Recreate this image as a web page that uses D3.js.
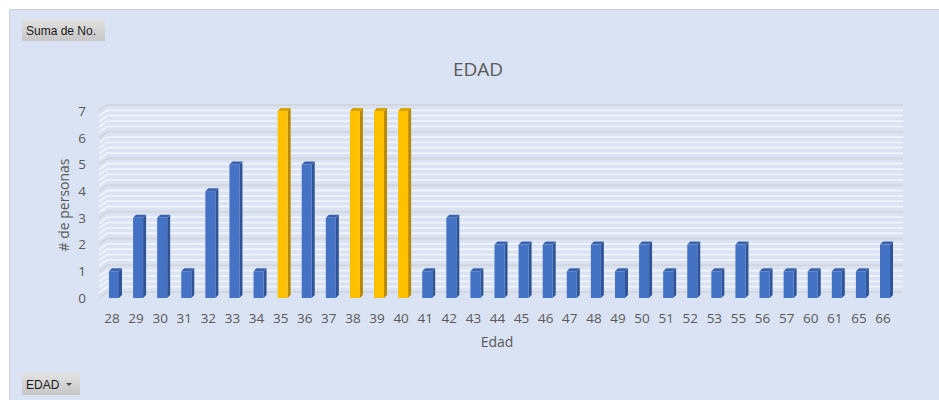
<!DOCTYPE html>
<html>
<head>
<meta charset="utf-8">
<script src="https://cdn.jsdelivr.net/npm/d3@7"></script>
<style>
  html, body { margin: 0; padding: 0; background: #ffffff; }
  svg { display: block; font-family: "Open Sans", "Liberation Sans", sans-serif; }
</style>
</head>
<body>
<svg id="chart" width="939" height="400"></svg>
<script>
// Ages (categories) and number of people per age
const edades = ["28","29","30","31","32","33","34","35","36","37","38","39","40","41","42","43","44","45","46","47","48","49","50","51","52","53","55","56","57","60","61","65","66"];
const personas = [1,3,3,1,4,5,1,7,5,3,7,7,7,1,3,1,2,2,2,1,2,1,2,1,2,1,2,1,1,1,1,1,2];
// Ages that are highlighted in gold
const destacadas = ["35","38","39","40"];
const yTicks = [0,1,2,3,4,5,6,7];

const svg = d3.select("#chart");

// Chart area background
svg.append("rect")
  .attr("x", 9.5).attr("y", 9.5).attr("width", 940).attr("height", 400)
  .attr("fill", "#dae3f3").attr("stroke", "#d0d0d0").attr("stroke-width", 1);

const x = d3.scaleBand().domain(edades).range([100, 895]).paddingInner(0.585).paddingOuter(0.29);
const y = d3.scaleLinear().domain([0, 7]).range([298, 111]);

// 3D depth offsets for the back wall and bar faces
const wallDx = 8, wallDy = -6;
const barDx = 3, barDy = -3;
const wallLeft = 99, wallRight = 903;

// Back wall gridlines (major every 1, minor every 0.2)
const grid = svg.append("g");
const gridVals = d3.range(0, 7.0001, 0.2);
gridVals.forEach(v => {
  const major = Math.abs(v - Math.round(v)) < 1e-6;
  const yy = y(v);
  const col = major ? "#d3d6dc" : "#f1f4f9";
  grid.append("path")
    .attr("d", `M${wallLeft},${yy} L${wallLeft + wallDx},${yy + wallDy} L${wallRight},${yy + wallDy}`)
    .attr("fill", "none")
    .attr("stroke", col)
    .attr("stroke-width", major ? 2 : 1.8);
});

// Bars with front, side and top faces
const barOff = 2;
const bars = svg.append("g").selectAll("g").data(edades).join("g");
bars.each(function(c, i) {
  const g = d3.select(this);
  const v = personas[i];
  const gold = destacadas.includes(c);
  const front = gold ? "#ffc000" : "#4472c4";
  const side = gold ? "#b98a00" : "#2f5597";
  const top = gold ? "#d9a300" : "#3a63ad";
  const x0 = x(c) + barOff, x1 = x0 + x.bandwidth();
  const y0 = y(0), y1 = y(v);
  g.append("path")
    .attr("d", `M${x1},${y0} L${x1 + barDx},${y0 + barDy} L${x1 + barDx},${y1 + barDy} L${x1},${y1} Z`)
    .attr("fill", side);
  g.append("path")
    .attr("d", `M${x0},${y1} L${x0 + barDx},${y1 + barDy} L${x1 + barDx},${y1 + barDy} L${x1},${y1} Z`)
    .attr("fill", top);
  g.append("rect")
    .attr("x", x0).attr("y", y1).attr("width", x1 - x0).attr("height", y0 - y1)
    .attr("fill", front);
});

// Axes
const yAxis = svg.append("g")
  .attr("transform", "translate(92,0)")
  .call(d3.axisLeft(y).tickValues(yTicks).tickSize(0).tickPadding(6).tickFormat(d3.format("d")));
yAxis.select(".domain").remove();
yAxis.selectAll("text").attr("font-size", 13.5).attr("fill", "#595959")
  .style("font-family", "'Open Sans', sans-serif");

const xAxis = svg.append("g")
  .attr("transform", "translate(0,298)")
  .call(d3.axisBottom(x).tickSize(0).tickPadding(15));
xAxis.select(".domain").remove();
xAxis.selectAll("text").attr("font-size", 13.5).attr("fill", "#595959")
  .style("font-family", "'Open Sans', sans-serif");

// Titles
svg.append("text")
  .attr("x", 478).attr("y", 76)
  .attr("text-anchor", "middle")
  .attr("font-size", 19).attr("fill", "#595959")
  .text("EDAD");

svg.append("text")
  .attr("x", 497).attr("y", 347)
  .attr("text-anchor", "middle")
  .attr("font-size", 14).attr("fill", "#595959")
  .text("Edad");

svg.append("text")
  .attr("transform", "translate(69,205) rotate(-90)")
  .attr("text-anchor", "middle")
  .attr("font-size", 14).attr("fill", "#595959")
  .text("# de personas");

// Field buttons
const defs = svg.append("defs");
const grad = defs.append("linearGradient").attr("id", "btn").attr("x1", 0).attr("x2", 0).attr("y1", 0).attr("y2", 1);
grad.append("stop").attr("offset", "0%").attr("stop-color", "#e2e2e2");
grad.append("stop").attr("offset", "100%").attr("stop-color", "#c6c6c6");

svg.append("rect").attr("x", 22).attr("y", 19).attr("width", 83).attr("height", 22).attr("fill", "url(#btn)");
svg.append("text").attr("x", 26).attr("y", 35).attr("font-size", 12).attr("fill", "#1a1a1a")
  .style("font-family", "'Liberation Sans', 'DejaVu Sans', sans-serif")
  .text("Suma de No.");

svg.append("rect").attr("x", 22).attr("y", 373).attr("width", 58).attr("height", 22).attr("fill", "url(#btn)");
svg.append("text").attr("x", 26).attr("y", 389).attr("font-size", 12).attr("fill", "#1a1a1a")
  .style("font-family", "'Liberation Sans', 'DejaVu Sans', sans-serif")
  .text("EDAD");
svg.append("path").attr("d", "M66,383 L72,383 L69,386 Z").attr("fill", "#444");
</script>
</body>
</html>
